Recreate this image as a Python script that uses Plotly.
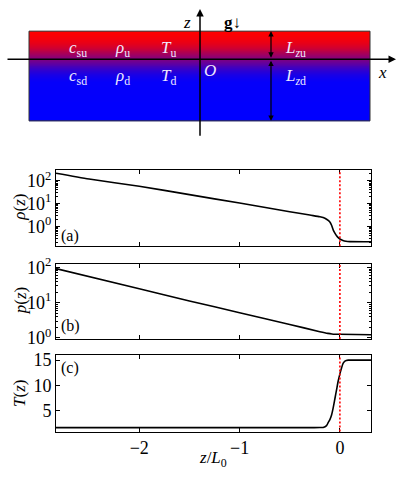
import numpy as np
import plotly.graph_objects as go

# ---------------- data ----------------
z_rho = [-2.83, -2.5, -2.0, -1.5, -1.0, -0.5, -0.3, -0.2, -0.167, -0.133, -0.1, -0.083,
         -0.067, -0.05, -0.033, -0.017, 0.0, 0.03, 0.06, 0.1, 0.31]
rho = [214, 120, 58, 25, 10.7, 4.5, 3.2, 2.7, 2.5, 2.1, 1.6, 1.15,
       0.72, 0.52, 0.40, 0.33, 0.29, 0.25, 0.23, 0.222, 0.22]

z_p = [-2.83, -2.0, -1.5, -1.0, -0.5, -0.2, -0.12, -0.08, -0.05, 0.0, 0.31]
p = [93, 25, 11.2, 5.2, 2.4, 1.5, 1.34, 1.29, 1.27, 1.26, 1.23]

z_T = [-2.83, -1.0, -0.3, -0.2, -0.167, -0.133, -0.117, -0.1, -0.083, -0.067, -0.05, -0.033,
       -0.017, 0.0, 0.017, 0.033, 0.05, 0.083, 0.12, 0.31]
T = [1.72, 1.72, 1.72, 1.73, 1.75, 2.1, 2.7, 3.3, 4.2, 5.6, 7.4, 9.2,
     10.9, 12.3, 13.5, 14.4, 14.8, 15.0, 15.0, 15.0]

x_ticks = [-2, -1, 0]
x_ticktext = ["\u22122", "\u22121", "0"]
log_tickvals = [1, 10, 100]
log_ticktext = ["10<sup>0</sup>", "10<sup>1</sup>", "10<sup>2</sup>"]
T_ticks = [5, 10, 15]
interface_z = 0.0

# schematic: red fraction of the colour at several heights (diagram units)
grad_y = [29, 24, 20, 16, 12, 8, 4, 0, -4, -8, -12, -16, -20, -24, -64]
grad_mix = [1, 0.98, 0.95, 0.9, 0.82, 0.72, 0.61, 0.5, 0.39, 0.28, 0.18, 0.1, 0.05, 0.02, 0]

# ---------------- figure ----------------
W, H = 400, 482
SERIF = "Liberation Serif, DejaVu Serif, serif"


def px_x(x):
    return x / W


def px_y(y):
    return 1 - y / H


fig = go.Figure()

# gradient layer
edges_y = np.linspace(-64, 29, 187)
centers = 0.5 * (edges_y[1:] + edges_y[:-1])
mix = np.interp(centers, grad_y[::-1], grad_mix[::-1])
fig.add_trace(go.Heatmap(
    x=[-171, 170], y=edges_y, z=mix.reshape(-1, 1),
    colorscale=[[0, "#0000ff"], [0.5, "#800080"], [1, "#ff0000"]],
    zmin=0, zmax=1, showscale=False, hoverinfo="skip",
    xaxis="x4", yaxis="y4"))

line = dict(color="black", width=1.6, shape="spline", smoothing=0.6)
fig.add_trace(go.Scatter(x=z_rho, y=rho, mode="lines", line=line, xaxis="x", yaxis="y", showlegend=False))
fig.add_trace(go.Scatter(x=z_p, y=p, mode="lines", line=line, xaxis="x2", yaxis="y2", showlegend=False))
fig.add_trace(go.Scatter(x=z_T, y=T, mode="lines", line=line, xaxis="x3", yaxis="y3", showlegend=False))

TICKFONT = dict(family=SERIF, size=18, color="black")
xdom = [px_x(56), px_x(371)]
common_x = dict(range=[-2.83, 0.31], domain=xdom, tickmode="array", tickvals=x_ticks,
                ticktext=x_ticktext, ticks="inside", ticklen=4, tickcolor="black",
                showline=True, linecolor="black", linewidth=1, mirror="allticks",
                showgrid=False, zeroline=False, tickfont=TICKFONT)
common_y = dict(ticks="inside", ticklen=4, tickcolor="black", showline=True, linecolor="black",
                linewidth=1, mirror="allticks", showgrid=False, zeroline=False, tickfont=TICKFONT)
minor_vals = [m * 10 ** d for d in range(-1, 3) for m in range(2, 10)]
minor = dict(ticks="inside", ticklen=2, tickcolor="black", tickwidth=0.8, showgrid=False,
             tickmode="array", tickvals=minor_vals)

fig.update_layout(
    width=W, height=H, margin=dict(l=0, r=0, t=0, b=0),
    paper_bgcolor="white", plot_bgcolor="white", showlegend=False,
    xaxis=dict(common_x, anchor="y", showticklabels=False),
    yaxis=dict(common_y, type="log", range=[-0.857, 2.47], domain=[px_y(247), px_y(168)],
               anchor="x", tickmode="array", tickvals=log_tickvals, ticktext=log_ticktext, minor=minor),
    xaxis2=dict(common_x, anchor="y2", showticklabels=False),
    yaxis2=dict(common_y, type="log", range=[-0.03, 2.11], domain=[px_y(343), px_y(265)],
                anchor="x2", tickmode="array", tickvals=log_tickvals, ticktext=log_ticktext, minor=minor),
    xaxis3=dict(common_x, anchor="y3", showticklabels=True),
    yaxis3=dict(common_y, range=[0.95, 15.95], domain=[px_y(439), px_y(360)],
                anchor="x3", tickmode="array", tickvals=T_ticks),
    xaxis4=dict(range=[-200, 200], domain=[0, 1], visible=False, anchor="y4", fixedrange=True),
    yaxis4=dict(range=[-87, 53], domain=[px_y(140), 1], visible=False, anchor="x4", fixedrange=True),
)

# red dotted interface lines
for xr, yr in [("x", "y"), ("x2", "y2"), ("x3", "y3")]:
    fig.add_shape(type="line", xref=xr, yref=yr + " domain", x0=interface_z, x1=interface_z,
                  y0=0, y1=1, line=dict(color="red", width=1.6, dash="2px,2px"))

# box outline of schematic
fig.add_shape(type="rect", xref="x4", yref="y4", x0=-171, x1=170, y0=-64, y1=29,
              line=dict(color="#333333", width=1))


# arrows of schematic
def arrow(x, y, ax, ay, both=False, size=1.0, width=1.5):
    fig.add_annotation(x=x, y=y, ax=ax, ay=ay, xref="x4", yref="y4", axref="x4", ayref="y4",
                       text="", showarrow=True, arrowhead=2, arrowsize=size, arrowwidth=width,
                       arrowcolor="black", arrowside="end+start" if both else "end",
                       startarrowhead=2, startarrowsize=size, standoff=0, startstandoff=0)


arrow(196, 0, -194, 0)
arrow(0, 52, 0, -81)
arrow(71, 29, 71, 0, both=True, size=0.9, width=1.2)
arrow(71, -64, 71, 0, both=True, size=0.9, width=1.2)

light = "#efe9ff"


def label(x, y, text, color=light, size=17):
    fig.add_annotation(x=x, y=y, xref="x4", yref="y4", text=text, showarrow=False,
                       xanchor="center", yanchor="middle",
                       font=dict(family=SERIF, size=size, color=color))


label(-122, 10, "<i>c</i><sub>su</sub>")
label(-78, 10, "<i>ρ</i><sub>u</sub>")
label(-32, 10, "<i>T</i><sub>u</sub>")
label(-122, -19, "<i>c</i><sub>sd</sub>")
label(-78, -19, "<i>ρ</i><sub>d</sub>")
label(-32, -19, "<i>T</i><sub>d</sub>")
label(10, -12, "<i>O</i>")
label(95, 11, "<i>L</i><sub><i>z</i>u</sub>")
label(95, -19, "<i>L</i><sub><i>z</i>d</sub>")
label(-13, 38, "<i>z</i>", color="black")
label(32, 38, "<b>g</b>↓", color="black")
label(182, -14, "<i>x</i>", color="black")


# panel labels
def plabel(x, y, text):
    fig.add_annotation(x=px_x(x), y=px_y(y), xref="paper", yref="paper", text=text, showarrow=False,
                       xanchor="left", yanchor="middle", font=dict(family=SERIF, size=16, color="black"))


plabel(59, 236, "(a)")
plabel(59, 330, "(b)")
plabel(59, 373, "(c)")


# axis titles
def ytitle(y, text):
    fig.add_annotation(x=px_x(20), y=px_y(y), xref="paper", yref="paper", text=text, showarrow=False,
                       xanchor="center", yanchor="middle", textangle=-90,
                       font=dict(family=SERIF, size=17, color="black"))


ytitle(207, "<i>ρ</i>(<i>z</i>)")
ytitle(304, "<i>p</i>(<i>z</i>)")
ytitle(400, "<i>T</i>(<i>z</i>)")
fig.add_annotation(x=px_x(213), y=px_y(468), xref="paper", yref="paper",
                   text="<i>z</i>/<i>L</i><sub>0</sub>", showarrow=False,
                   xanchor="center", yanchor="middle",
                   font=dict(family=SERIF, size=17, color="black"))

fig.write_html("out.html")
